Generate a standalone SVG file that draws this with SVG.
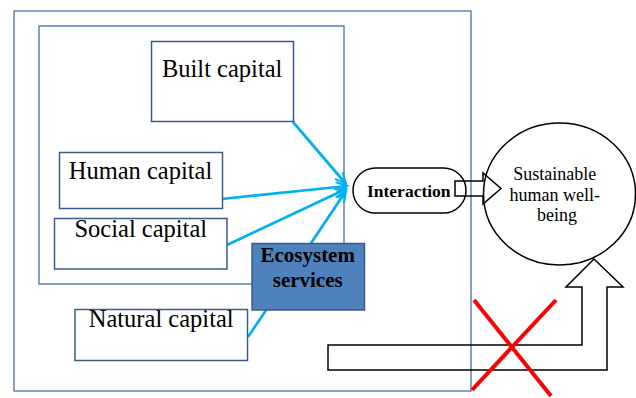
<svg xmlns="http://www.w3.org/2000/svg" width="636" height="398" viewBox="0 0 636 398">
<style>
.frame{fill:none;stroke:#4a6fa5;stroke-width:1.3}
.box{fill:#fff;stroke:#385d8a;stroke-width:1.5}
.lbl{font-family:"Liberation Serif","Times New Roman",serif;font-size:24.5px;fill:#000;text-anchor:middle}
.bold{font-family:"Liberation Serif","Times New Roman",serif;font-weight:bold;fill:#000;text-anchor:middle}
.conn{stroke:#00b0f0;fill:none;stroke-width:2.7;marker-end:url(#ah)}
.blk{fill:none;stroke:#000;stroke-width:1.5;stroke-linejoin:miter}
</style>
<defs>
<marker id="ah" markerUnits="userSpaceOnUse" markerWidth="14" markerHeight="14" refX="12" refY="6" orient="auto" viewBox="0 0 14 12">
<path d="M1,1 L12,6 L1,11" fill="none" stroke="#00b0f0" stroke-width="2"/>
</marker>
</defs>
<rect width="636" height="398" fill="#fff"/>
<g id="frames">
<rect class="frame" x="14" y="11" width="457" height="380"/>
<rect class="frame" x="39" y="26" width="305" height="258"/>
</g>
<g id="connectors">
<line class="conn" x1="293" y1="122" x2="346" y2="184"/>
<line class="conn" x1="222" y1="199" x2="347" y2="186"/>
<line class="conn" x1="227" y1="245" x2="346" y2="189"/>
<line class="conn" x1="248" y1="337" x2="346" y2="191"/>
<path class="blk" d="M455,181 L483,181 L483,173 L501,188.5 L483,204 L483,196 L455,196 Z"/>
<path class="blk" d="M328,345 L582,345 L582,287 L566,287 L594,259 L623,287 L607,287 L607,370 L328,370 Z"/>
</g>
<g id="built">
<rect class="box" x="151.5" y="41.5" width="142" height="80"/>
<text class="lbl" x="222.2" y="76.7">Built capital</text>
</g>
<g id="human">
<rect class="box" x="59.5" y="152.5" width="163" height="56"/>
<text class="lbl" x="140.5" y="179.3">Human capital</text>
</g>
<g id="social">
<rect class="box" x="54.5" y="218.5" width="172.5" height="50.5"/>
<text class="lbl" x="140.8" y="237.3">Social capital</text>
</g>
<g id="natural">
<rect class="box" x="75" y="309.5" width="172.5" height="51"/>
<text class="lbl" x="161.2" y="327.3">Natural capital</text>
</g>
<g id="ecosystem">
<rect x="252" y="243.5" width="112.5" height="66.5" fill="#4f81bd" stroke="#385d8a" stroke-width="1.5"/>
<text class="bold" x="307.7" y="261.7" font-size="21">Ecosystem</text>
<text class="bold" x="307.7" y="286.7" font-size="21">services</text>
</g>
<g id="interaction">
<rect x="353" y="168" width="113" height="45" rx="22.5" ry="22.5" fill="none" stroke="#000" stroke-width="1.5"/>
<text class="bold" x="408.8" y="196.7" font-size="17.5">Interaction</text>
</g>
<g id="wellbeing">
<ellipse cx="559.5" cy="194" rx="76" ry="71" fill="none" stroke="#000" stroke-width="1.5"/>
<text font-family="Liberation Serif, Times New Roman, serif" font-size="18" text-anchor="middle" x="557">
<tspan x="557" y="180">Sustainable</tspan>
<tspan x="557" y="200.5">human well-</tspan>
<tspan x="557" y="220.5">being</tspan>
</text>
</g>
<g id="cross">
<line x1="474" y1="300" x2="551" y2="396" stroke="#ff0000" stroke-width="4"/>
<line x1="556" y1="300" x2="472" y2="390" stroke="#ff0000" stroke-width="4"/>
</g>
</svg>
